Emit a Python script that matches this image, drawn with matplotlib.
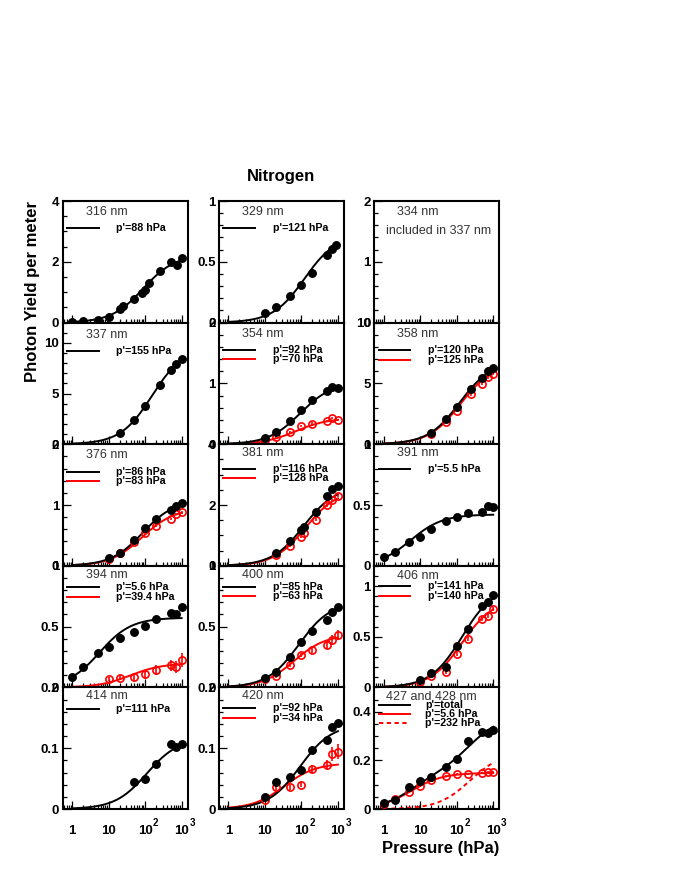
import numpy as np
import matplotlib
matplotlib.use("Agg")
import matplotlib.pyplot as plt
import matplotlib.transforms as mtransforms
from matplotlib.ticker import (MultipleLocator, FixedLocator, LogLocator,
                               NullFormatter, FuncFormatter)

# ── Data ──────────────────────────────────────────────────────────────────────
P_ALL = [1, 2, 5, 10, 20, 50, 100, 200, 500, 700, 1000]
P_HI = [10, 20, 50, 100, 200, 500, 700, 1000]

P_316 = [1, 2, 5, 10, 20, 25, 50, 80, 100, 125, 250, 500, 750, 1000]
Y_316 = [0.03, 0.06, 0.1, 0.2, 0.44, 0.55, 0.77, 0.96, 1.07, 1.29, 1.69, 2.0, 1.91, 2.13]

P_329 = [10, 20, 50, 100, 200, 500, 700, 900]
Y_329 = [0.082, 0.125, 0.215, 0.307, 0.405, 0.554, 0.609, 0.641]

P_337 = [20, 50, 100, 250, 500, 700, 1000]
Y_337 = [1.12, 2.43, 3.78, 5.82, 7.30, 7.89, 8.36]

Y_354_K = [0.11, 0.20, 0.38, 0.57, 0.725, 0.87, 0.945, 0.92]
Y_354_R = [0.066, 0.12, 0.20, 0.30, 0.34, 0.38, 0.43, 0.40]
E_354_R = [0.02] * 8

P_358 = [20, 50, 100, 250, 500, 700, 1000]
Y_358_K = [0.88, 2.06, 3.08, 4.5, 5.41, 6.02, 6.24]
Y_358_R = [0.82, 1.84, 2.75, 4.09, 4.95, 5.49, 5.77]
E_358_R = [0.12] * 7

Y_376_K = [0.124, 0.205, 0.43, 0.62, 0.77, 0.92, 0.99, 1.03]
Y_376_R = [0.12, 0.205, 0.39, 0.54, 0.66, 0.77, 0.85, 0.88]
E_376_R = [0.02] * 8

P_381 = [20, 50, 100, 120, 250, 500, 700, 1000]
Y_381_K = [0.415, 0.80, 1.18, 1.27, 1.76, 2.30, 2.51, 2.62]
Y_381_R = [0.34, 0.66, 0.96, 1.07, 1.51, 2.0, 2.16, 2.31]
E_381_R = [0.05] * 8

Y_391 = [0.071, 0.117, 0.194, 0.235, 0.30, 0.372, 0.40, 0.437, 0.445, 0.495, 0.486]

Y_394_K = [0.088, 0.165, 0.28, 0.335, 0.404, 0.456, 0.505, 0.56, 0.615, 0.60, 0.66]
Y_394_R = [0.069, 0.08, 0.082, 0.107, 0.143, 0.181, 0.17, 0.225]
E_394_R = [0.015, 0.02, 0.033, 0.038, 0.044, 0.047, 0.05, 0.055]

Y_400_K = [0.074, 0.126, 0.253, 0.376, 0.464, 0.555, 0.618, 0.66]
Y_400_R = [0.066, 0.093, 0.184, 0.266, 0.308, 0.349, 0.39, 0.431]
E_400_R = [0.01, 0.012, 0.015, 0.018, 0.022, 0.033, 0.04, 0.044]

Y_406_K = [0.072, 0.138, 0.203, 0.407, 0.58, 0.803, 0.843, 0.915]
Y_406_R = [0.056, 0.111, 0.154, 0.334, 0.475, 0.672, 0.705, 0.77]
E_406_R = [0.02] * 8

P_414 = [50, 100, 200, 500, 700, 1000]
Y_414 = [0.0443, 0.0492, 0.0732, 0.1077, 0.1027, 0.1077]

Y_420_K = [0.0197, 0.0437, 0.0519, 0.0645, 0.0973, 0.113, 0.1355, 0.141]
Y_420_R = [0.0142, 0.0355, 0.0355, 0.040, 0.0656, 0.0721, 0.0907, 0.0945]
E_420_R = [0.003, 0.004, 0.004, 0.004, 0.0066, 0.0082, 0.011, 0.012]

Y_427_K = [0.025, 0.036, 0.091, 0.117, 0.132, 0.173, 0.206, 0.279, 0.318, 0.314, 0.325]
Y_427_R = [0.022, 0.041, 0.070, 0.096, 0.118, 0.135, 0.142, 0.144, 0.149, 0.151, 0.151]
E_427_R = [0.004] * 11

# fit curves: p' from the legends, curve value at 1000 hPa
PP_316, END_316 = 88, 2.05
PP_329, END_329 = 121, 0.645
PP_337, END_337 = 155, 8.3
PP_354, END_354 = (92, 70), (0.93, 0.40)
PP_358, END_358 = (120, 125), (6.1, 5.85)
PP_376, END_376 = (86, 83), (1.0, 0.87)
PP_381, END_381 = (116, 128), (2.35, 2.22)
PP_391, END_391 = 5.5, 0.42
PP_394, END_394 = (5.6, 39.4), (0.57, 0.19)
PP_400, END_400 = (85, 63), (0.65, 0.41)
PP_406, END_406 = (141, 140), (0.88, 0.77)
PP_414, END_414 = 111, 0.105
PP_420, END_420 = (92, 34), (0.128, 0.073)
PP_427, END_427 = (5.6, 232), (0.148, 0.19)

# ── Style ─────────────────────────────────────────────────────────────────────
FONT = "Liberation Sans"
plt.rcParams["font.family"] = [FONT, "DejaVu Sans"]
plt.rcParams["font.weight"] = "bold"
plt.rcParams["mathtext.fontset"] = "custom"
plt.rcParams["mathtext.rm"] = FONT + ":bold"
plt.rcParams["mathtext.bf"] = FONT + ":bold"

RED = "#ff0000"
NM_C = "#333333"
W, H = 674, 872
COL_X = [62.7, 219.0, 374.3]
ROW_Y = [201.0, 322.6, 444.2, 565.8, 687.4]
PW, PH = 124.8, 121.6
P_GRID = np.logspace(0, 3, 300)

fig = plt.figure(figsize=(W / 100, H / 100), dpi=100, facecolor="white")


def fit(p, pprime, end):
    f = p / (1 + p / pprime)
    return end * f / (1000 / (1 + 1000 / pprime))


def panel(col, row, ymax, major, minor):
    ax = fig.add_axes([COL_X[col] / W, 1 - (ROW_Y[row] + PH) / H, PW / W, PH / H])
    ax.set_xscale("log")
    ax.set_xlim(0.55, 1450)
    ax.set_ylim(0, ymax)
    ax.yaxis.set_major_locator(MultipleLocator(major))
    ax.yaxis.set_minor_locator(MultipleLocator(minor))
    ax.yaxis.set_major_formatter(FuncFormatter(lambda v, _: f"{v:g}"))
    ax.xaxis.set_major_locator(FixedLocator([1, 10, 100, 1000]))
    ax.xaxis.set_minor_locator(LogLocator(base=10, subs=np.arange(2, 10), numticks=20))
    ax.xaxis.set_major_formatter(NullFormatter())
    ax.xaxis.set_minor_formatter(NullFormatter())
    ax.tick_params(which="both", direction="in", top=False, right=False, width=0.9)
    ax.tick_params(which="major", length=5.5, labelsize=9.5, pad=2.5)
    ax.tick_params(which="minor", length=2.6)
    for s in ax.spines.values():
        s.set_linewidth(1.5)
    if row == 4:
        tr = mtransforms.blended_transform_factory(ax.transData, ax.transAxes)
        sup_tr = mtransforms.offset_copy(tr, fig=fig, x=5.6, y=6, units="points")
        for v, base, sup in [(1, "1", ""), (10, "10", ""), (100, "10", "2"), (1000, "10", "3")]:
            ax.text(v, -0.18, base, transform=tr, ha="center", va="center", fontsize=9.5)
            if sup:
                ax.text(v, -0.18, sup, transform=sup_tr, ha="left", va="center", fontsize=7)
    return ax


def nm(ax, text, off, x=0.184):
    ax.text(x, 1 - off / PH, text, transform=ax.transAxes, fontsize=9,
            fontweight="normal", color=NM_C, ha="left", va="center")


def leg(ax, off, text, color="black", ls="-", tx=0.43):
    y = 1 - off / PH
    ax.plot([0.035, 0.29], [y, y], transform=ax.transAxes, color=color, lw=1.4, ls=ls)
    ax.text(tx, y, text, transform=ax.transAxes, fontsize=7.7, ha="left", va="center")


def black(ax, p, y, pp=None, end=None):
    if pp is not None:
        ax.plot(P_GRID, fit(P_GRID, pp, end), color="black", lw=1.4, zorder=2)
    ax.plot(p, y, "o", color="black", ms=5.4, zorder=4)


def red(ax, p, y, err, pp, end):
    ax.plot(P_GRID, fit(P_GRID, pp, end), color=RED, lw=1.4, zorder=2)
    ax.errorbar(p, y, yerr=err, fmt="o", mfc="none", mec=RED, ecolor=RED,
                ms=5.2, mew=1.2, elinewidth=1.2, capsize=0, zorder=3)


# ── Row 1 ─────────────────────────────────────────────────────────────────────
ax = panel(0, 0, 4, 2, 0.5)
nm(ax, "316 nm", 11)
leg(ax, 27, "p'=88 hPa")
black(ax, P_316, Y_316, PP_316, END_316)

ax = panel(1, 0, 1, 0.5, 0.1)
nm(ax, "329 nm", 11)
leg(ax, 27, "p'=121 hPa")
black(ax, P_329, Y_329, PP_329, END_329)

ax = panel(2, 0, 2, 1, 0.2)
nm(ax, "334 nm", 11)
nm(ax, "included in 337 nm", 30, x=0.096)

# ── Row 2 ─────────────────────────────────────────────────────────────────────
ax = panel(0, 1, 12, 5, 1)
nm(ax, "337 nm", 12)
leg(ax, 28, "p'=155 hPa")
black(ax, P_337, Y_337, PP_337, END_337)

ax = panel(1, 1, 2, 1, 0.2)
nm(ax, "354 nm", 11)
leg(ax, 27.5, "p'=92 hPa")
leg(ax, 36.5, "p'=70 hPa", RED)
red(ax, P_HI, Y_354_R, E_354_R, PP_354[1], END_354[1])
black(ax, P_HI, Y_354_K, PP_354[0], END_354[0])

ax = panel(2, 1, 10, 5, 1)
nm(ax, "358 nm", 11)
leg(ax, 27.5, "p'=120 hPa")
leg(ax, 37, "p'=125 hPa", RED)
red(ax, P_358, Y_358_R, E_358_R, PP_358[1], END_358[1])
black(ax, P_358, Y_358_K, PP_358[0], END_358[0])

# ── Row 3 ─────────────────────────────────────────────────────────────────────
ax = panel(0, 2, 2, 1, 0.2)
nm(ax, "376 nm", 11)
leg(ax, 27.5, "p'=86 hPa")
leg(ax, 36.8, "p'=83 hPa", RED)
red(ax, P_HI, Y_376_R, E_376_R, PP_376[1], END_376[1])
black(ax, P_HI, Y_376_K, PP_376[0], END_376[0])

ax = panel(1, 2, 4, 2, 0.5)
nm(ax, "381 nm", 9)
leg(ax, 25, "p'=116 hPa")
leg(ax, 34, "p'=128 hPa", RED)
red(ax, P_381, Y_381_R, E_381_R, PP_381[1], END_381[1])
black(ax, P_381, Y_381_K, PP_381[0], END_381[0])

ax = panel(2, 2, 1, 0.5, 0.1)
nm(ax, "391 nm", 9)
leg(ax, 25, "p'=5.5 hPa")
black(ax, P_ALL, Y_391, PP_391, END_391)

# ── Row 4 ─────────────────────────────────────────────────────────────────────
ax = panel(0, 3, 1, 0.5, 0.1)
nm(ax, "394 nm", 9)
leg(ax, 21, "p'=5.6 hPa")
leg(ax, 31, "p'=39.4 hPa", RED)
red(ax, P_HI, Y_394_R, E_394_R, PP_394[1], END_394[1])
black(ax, P_ALL, Y_394_K, PP_394[0], END_394[0])

ax = panel(1, 3, 1, 0.5, 0.1)
nm(ax, "400 nm", 9)
leg(ax, 21, "p'=85 hPa")
leg(ax, 30, "p'=63 hPa", RED)
red(ax, P_HI, Y_400_R, E_400_R, PP_400[1], END_400[1])
black(ax, P_HI, Y_400_K, PP_400[0], END_400[0])

ax = panel(2, 3, 1.2, 0.5, 0.1)
nm(ax, "406 nm", 10)
leg(ax, 20, "p'=141 hPa")
leg(ax, 30, "p'=140 hPa", RED)
red(ax, P_HI, Y_406_R, E_406_R, PP_406[1], END_406[1])
black(ax, P_HI, Y_406_K, PP_406[0], END_406[0])

# ── Row 5 ─────────────────────────────────────────────────────────────────────
ax = panel(0, 4, 0.2, 0.1, 0.02)
nm(ax, "414 nm", 9)
leg(ax, 22, "p'=111 hPa")
black(ax, P_414, Y_414, PP_414, END_414)

ax = panel(1, 4, 0.2, 0.1, 0.02)
nm(ax, "420 nm", 9)
leg(ax, 21, "p'=92 hPa")
leg(ax, 31, "p'=34 hPa", RED)
red(ax, P_HI, Y_420_R, E_420_R, PP_420[1], END_420[1])
black(ax, P_HI, Y_420_K, PP_420[0], END_420[0])

ax = panel(2, 4, 0.5, 0.2, 0.05)
nm(ax, "427 and 428 nm", 9.3, x=0.096)
leg(ax, 17.6, "p'=total", tx=0.41)
leg(ax, 26.6, "p'=5.6 hPa", RED, tx=0.41)
leg(ax, 35.6, "p'=232 hPa", RED, ls=(0, (2.2, 1.8)), tx=0.41)
fast = fit(P_GRID, PP_427[0], END_427[0])
slow = fit(P_GRID, PP_427[1], END_427[1])
ax.plot(P_GRID, slow, color=RED, lw=1.4, ls=(0, (2.2, 1.8)), zorder=2)
red(ax, P_ALL, Y_427_R, E_427_R, PP_427[0], END_427[0])
ax.plot(P_GRID, fast + slow, color="black", lw=1.4, zorder=2)
black(ax, P_ALL, Y_427_K)

# ── Titles ────────────────────────────────────────────────────────────────────
fig.text(281 / W, 1 - 176.5 / H, "Nitrogen", ha="center", va="center", fontsize=12)
fig.text(33 / W, 1 - 201 / H, "Photon Yield per meter", rotation=90,
         ha="center", va="top", fontsize=12)
fig.text(499 / W, 1 - 848 / H, "Pressure (hPa)", ha="right", va="center", fontsize=12)

fig.savefig("out.png", dpi=100, facecolor="white")
